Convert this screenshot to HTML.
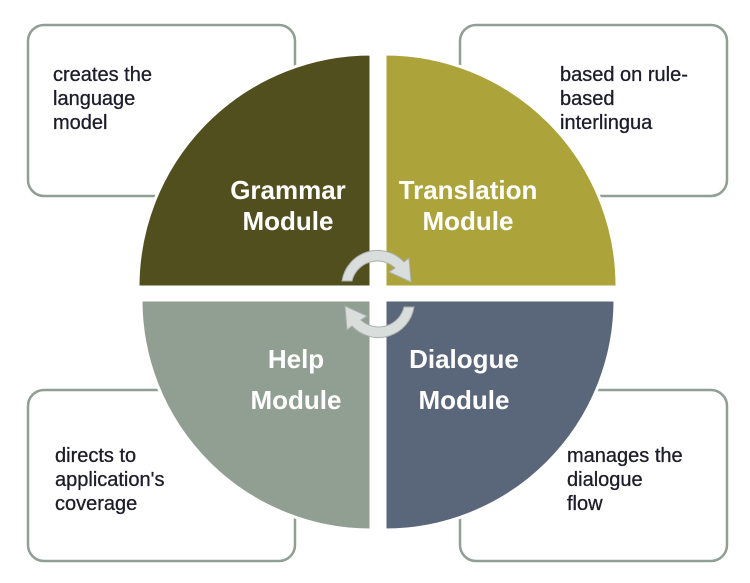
<!DOCTYPE html>
<html><head><meta charset="utf-8"><style>
html,body{margin:0;padding:0;background:#fff;width:750px;height:583px;overflow:hidden}
</style></head><body>
<svg width="750" height="583" viewBox="0 0 750 583" xmlns="http://www.w3.org/2000/svg" font-family="Liberation Sans, Arial, sans-serif">
<g fill="#fff" stroke="#8f9f94" stroke-width="2.5">
<rect x="28" y="25" width="267" height="171" rx="16"/>
<rect x="460" y="25" width="267" height="171" rx="16"/>
<rect x="28" y="390" width="267" height="171" rx="16"/>
<rect x="460" y="390" width="267" height="171" rx="16"/>
</g>
<g font-size="20" fill="#1c1c2a" stroke="#1c1c2a" stroke-width="0.3">
<text x="53" y="81"><tspan x="53">creates the</tspan><tspan x="53" dy="24">language</tspan><tspan x="53" dy="24">model</tspan></text>
<text x="560" y="81"><tspan x="560">based on rule-</tspan><tspan x="560" dy="24">based</tspan><tspan x="560" dy="24">interlingua</tspan></text>
<text x="55" y="462"><tspan x="55">directs to</tspan><tspan x="55" dy="24">application's</tspan><tspan x="55" dy="24">coverage</tspan></text>
<text x="567" y="462"><tspan x="567">manages the</tspan><tspan x="567" dy="24">dialogue</tspan><tspan x="567" dy="24">flow</tspan></text>
</g>
<g stroke="#fff" stroke-width="3">
<path d="M371,287 L138,287 A233,233 0 0 1 371,54 Z" fill="#524f1f"/>
<path d="M385,287 L385,54 A232,232 0 0 1 617,287 Z" fill="#aca43a"/>
<path d="M371,300 L371,530 A230,230 0 0 1 141,300 Z" fill="#919f92"/>
<path d="M385,300 L615,300 A230,230 0 0 1 385,530 Z" fill="#5a667a"/>
</g>
<g font-size="26" font-weight="bold" fill="#fff" text-anchor="middle">
<text x="288" y="199"><tspan x="288">Grammar</tspan><tspan x="288" dy="31">Module</tspan></text>
<text x="468" y="199"><tspan x="468">Translation</tspan><tspan x="468" dy="31">Module</tspan></text>
<text x="296" y="368"><tspan x="296">Help</tspan><tspan x="296" dy="41">Module</tspan></text>
<text x="464" y="368"><tspan x="464">Dialogue</tspan><tspan x="464" dy="41">Module</tspan></text>
</g>
<g fill="#d9dddb" stroke="#a8b0ac" stroke-width="1">
<path d="M342,281 A36,36 0 0 1 404,262 L409,258 L411,282 L389,272 L395,268 A26,26 0 0 0 352,281 Z"/>
<path d="M414,307 A36,36 0 0 1 352,326 L347,330 L345,306 L367,316 L361,320 A26,26 0 0 0 404,307 Z"/>
</g>
</svg>
</body></html>
